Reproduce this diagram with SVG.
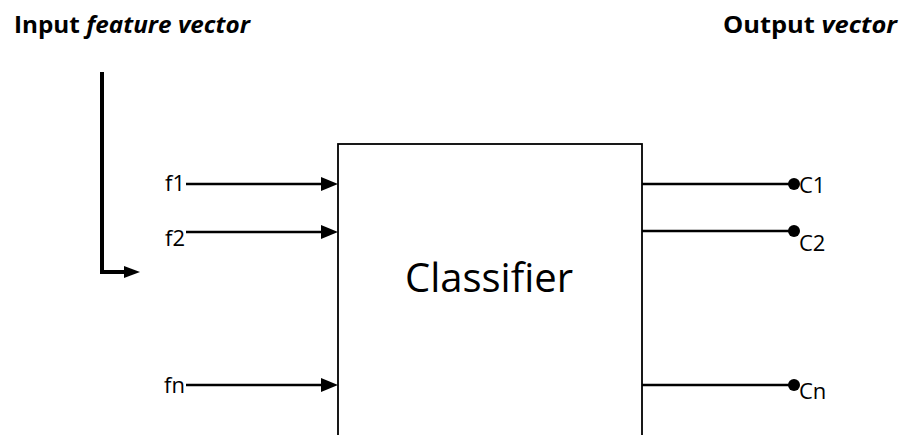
<svg xmlns="http://www.w3.org/2000/svg" width="906" height="435" viewBox="0 0 906 435">
  <style>
    text { font-family: "Open Sans", "Liberation Sans", sans-serif; fill: #000; }
    .title { font-size: 23px; font-weight: bold; }
    .lbl { font-size: 22px; }
    .wire { stroke: #000; stroke-width: 2.5; fill: none; }
  </style>
  <rect width="906" height="435" fill="#fff"/>

  <g id="titles">
    <text class="title" x="14" y="33" textLength="236" lengthAdjust="spacingAndGlyphs">Input <tspan font-style="italic">feature vector</tspan></text>
    <text class="title" x="723" y="33" textLength="174" lengthAdjust="spacingAndGlyphs">Output  <tspan font-style="italic">vector</tspan></text>
  </g>

  <g id="classifier">
    <rect x="338" y="144" width="304" height="300" fill="#fff" stroke="#000" stroke-width="1.8"/>
    <text x="489" y="292" font-size="40" text-anchor="middle">Classifier</text>
  </g>

  <g id="connectors">
    <!-- input sweep arrow -->
    <path d="M102,72 V272 H126" stroke="#000" stroke-width="4" fill="none"/>
    <path d="M124,266 L140,272 L124,278 Z" fill="#000"/>
    <!-- input wires -->
    <line class="wire" x1="186" y1="184" x2="322" y2="184"/>
    <path d="M321,177 L338,184 L321,191 Z" fill="#000"/>
    <line class="wire" x1="186" y1="232" x2="322" y2="232"/>
    <path d="M321,225 L338,232 L321,239 Z" fill="#000"/>
    <line class="wire" x1="186" y1="385" x2="322" y2="385"/>
    <path d="M321,378 L338,385 L321,392 Z" fill="#000"/>
    <!-- output wires -->
    <line class="wire" x1="642" y1="184" x2="794" y2="184"/>
    <circle cx="794" cy="184" r="6" fill="#000"/>
    <line class="wire" x1="642" y1="231" x2="794" y2="231"/>
    <circle cx="794" cy="231" r="6" fill="#000"/>
    <line class="wire" x1="642" y1="385" x2="794" y2="385"/>
    <circle cx="794" cy="385" r="6" fill="#000"/>
  </g>

  <g id="inputs">
    <text class="lbl" x="185" y="191" text-anchor="end">f1</text>
    <text class="lbl" x="185" y="246" text-anchor="end">f2</text>
    <text class="lbl" x="185" y="393" text-anchor="end">fn</text>
  </g>

  <g id="outputs">
    <text class="lbl" x="799" y="193">C1</text>
    <text class="lbl" x="799" y="251">C2</text>
    <text class="lbl" x="799" y="399">Cn</text>
  </g>
</svg>
